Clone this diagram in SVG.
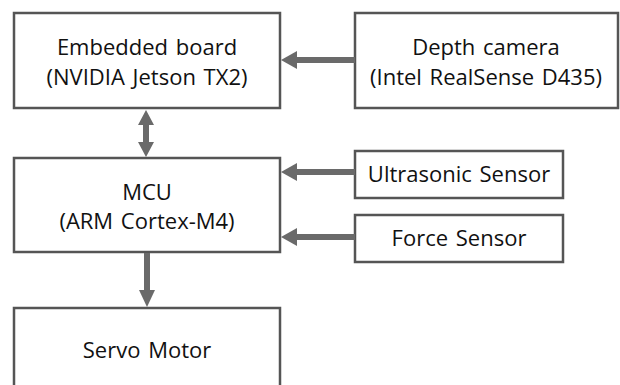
<svg xmlns="http://www.w3.org/2000/svg" width="620" height="385" viewBox="0 0 620 385">
<defs>
<style>
.box{fill:#fff;stroke:#555;stroke-width:2.5}
.t{font-family:"Open Sans","Noto Sans",sans-serif;font-size:22px;fill:#111;text-anchor:middle;word-spacing:2px}
.c{stroke:#6a6a6a;stroke-width:6;fill:none}
.h{fill:#6a6a6a;stroke:none}
</style>
</defs>
<rect width="620" height="385" fill="#fff"/>
<g id="embedded">
<rect class="box" x="14" y="13" width="266" height="95"/>
<text class="t" x="147" y="55">Embedded board</text>
<text class="t" x="147" y="85">(NVIDIA Jetson TX2)</text>
</g>
<g id="depth">
<rect class="box" x="355" y="13" width="263" height="95"/>
<text class="t" x="486" y="55">Depth camera</text>
<text class="t" x="486" y="85">(Intel RealSense D435)</text>
</g>
<g id="mcu">
<rect class="box" x="14" y="158" width="266" height="94"/>
<text class="t" x="147" y="200">MCU</text>
<text class="t" x="147" y="229">(ARM Cortex-M4)</text>
</g>
<g id="ultrasonic">
<rect class="box" x="355" y="151" width="208" height="47"/>
<text class="t" x="459" y="182">Ultrasonic Sensor</text>
</g>
<g id="force">
<rect class="box" x="355" y="215" width="208" height="47"/>
<text class="t" x="459" y="246">Force Sensor</text>
</g>
<g id="servo">
<rect class="box" x="14" y="308" width="266" height="90"/>
<text class="t" x="147" y="358">Servo Motor</text>
</g>
<g id="connectors">
<line class="c" x1="355" y1="60" x2="295" y2="60"/>
<polygon class="h" points="281,60 297,51 297,69"/>
<line class="c" x1="355" y1="172" x2="295" y2="172"/>
<polygon class="h" points="281,172 297,163 297,181"/>
<line class="c" x1="355" y1="237" x2="295" y2="237"/>
<polygon class="h" points="281,237 297,228 297,246"/>
<line class="c" x1="146" y1="124" x2="146" y2="143"/>
<polygon class="h" points="146,110 138,125 154,125"/>
<polygon class="h" points="146,157 138,142 154,142"/>
<line class="c" x1="147" y1="253" x2="147" y2="292"/>
<polygon class="h" points="147,307 139,290 155,290"/>
</g>
</svg>
